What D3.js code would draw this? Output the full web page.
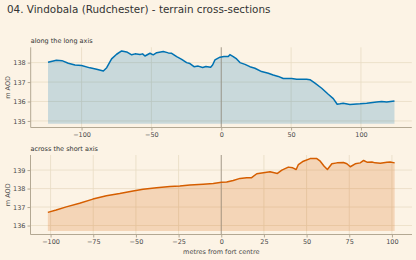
<!DOCTYPE html>
<html>
<head>
<meta charset="utf-8">
<script src="https://cdn.jsdelivr.net/npm/d3@7"></script>
<style>
  body { margin: 0; background: #fcf3e5; }
  svg { display: block; font-family: "DejaVu Sans", sans-serif; }
</style>
</head>
<body>
<svg id="chart"></svg>
<script>
const WIDTH = 416;
const HEIGHT = 260;

const TITLE = "04. Vindobala (Rudchester) - terrain cross-sections";
const X_LABEL = "metres from fort centre";
const Y_LABEL = "m AOD";

// along the long axis
const longX = [-124, -118, -114, -109.5, -104.7, -100, -94, -89.2, -84.4, -82, -78.5, -74.9, -71.3, -67.7, -64.1, -61.7,
  -58.2, -56.3, -54.6, -51, -48.7, -46.2, -41.5, -37.9, -35.5, -31.9, -28.3, -24.8, -22.4, -19.5, -16.5, -13.3, -11,
  -7.6, -6.2, -4.5, -0.9, 1.9, 5, 6.2, 8.6, 11, 13.4, 17, 20.5, 24.1, 28.9, 33.7, 37.2, 40.8, 44.4, 50.4, 54, 61.1,
  63.5, 67.1, 71.9, 76.6, 80.2, 83, 85, 87.3, 92.1, 99.3, 104.1, 111.2, 114.8, 118.4, 124];
const longZ = [138.02, 138.12, 138.1, 137.97, 137.88, 137.85, 137.73, 137.66, 137.57, 137.74, 138.19, 138.43, 138.6,
  138.55, 138.4, 138.45, 138.42, 138.45, 138.34, 138.48, 138.4, 138.51, 138.57, 138.5, 138.48, 138.31, 138.17, 138.0,
  137.95, 137.79, 137.82, 137.75, 137.8, 137.76, 137.88, 138.14, 138.28, 138.31, 138.31, 138.41, 138.31, 138.19, 138.0,
  137.91, 137.79, 137.71, 137.54, 137.45, 137.36, 137.29, 137.18, 137.18, 137.15, 137.15, 137.12, 136.94, 136.68,
  136.37, 136.15, 135.86, 135.88, 135.91, 135.85, 135.88, 135.91, 135.97, 136.0, 135.97, 136.02];

// across the short axis
const shortX = [-101.6, -96.7, -90.8, -83, -75.2, -67.3, -59.5, -51.7, -45.8, -37.9, -30.1, -24.3, -18.4, -10.6, -4.7,
  0.2, 3.2, 7, 11, 14.9, 17.8, 20.8, 24.7, 28.6, 32.9, 35.5, 39.3, 41.9, 43.9, 45.2, 48.1, 52.1, 56, 58, 60.3, 62.2,
  64.8, 67.8, 71.6, 73.6, 75.6, 78.5, 81.4, 83.4, 85.4, 88.3, 90.2, 93.2, 97.1, 99, 101.6];
const shortZ = [136.71, 136.84, 137.01, 137.21, 137.43, 137.61, 137.73, 137.87, 137.96, 138.05, 138.11, 138.14, 138.19,
  138.23, 138.27, 138.34, 138.35, 138.44, 138.55, 138.59, 138.59, 138.8, 138.86, 138.91, 138.82, 139.0, 139.16, 139.12,
  139.03, 139.3, 139.48, 139.62, 139.62, 139.48, 139.21, 139.03, 139.34, 139.39, 139.41, 139.34, 139.18, 139.34,
  139.39, 139.52, 139.43, 139.44, 139.39, 139.37, 139.42, 139.44, 139.39];

const longXTicks = [-100, -50, 0, 50, 100];
const longYTicks = [135, 136, 137, 138];
const shortXTicks = [-100, -75, -50, -25, 0, 25, 50, 75, 100];
const shortYTicks = [136, 137, 138, 139];

const GRID = "#e9dcc4";
const SPINE = "#b3a893";
const TEXT = "#4a4a4a";

const svg = d3.select("#chart")
  .attr("width", WIDTH)
  .attr("height", HEIGHT);

svg.append("rect")
  .attr("width", WIDTH)
  .attr("height", HEIGHT)
  .attr("fill", "#fcf3e5");

svg.append("text")
  .attr("x", 7)
  .attr("y", 12.5)
  .attr("font-size", 10.4)
  .attr("fill", "#333")
  .text(TITLE);

function pad(lo, hi) {
  const m = (hi - lo) * 0.05;
  return [lo - m, hi + m];
}

function panel(xs, zs, opt) {
  const base = d3.min(zs) - 1;
  const x = d3.scaleLinear()
    .domain(pad(d3.min(xs), d3.max(xs)))
    .range([opt.left, opt.right]);
  const y = d3.scaleLinear()
    .domain(pad(base, d3.max(zs)))
    .range([opt.bottom, opt.top]);

  const g = svg.append("g");

  // grid
  g.append("g").selectAll("line")
    .data(opt.xTicks)
    .join("line")
    .attr("x1", d => x(d)).attr("x2", d => x(d))
    .attr("y1", opt.top).attr("y2", opt.bottom)
    .attr("stroke", GRID).attr("stroke-width", 0.8);
  g.append("g").selectAll("line")
    .data(opt.yTicks)
    .join("line")
    .attr("x1", opt.left).attr("x2", opt.right)
    .attr("y1", d => y(d)).attr("y2", d => y(d))
    .attr("stroke", GRID).attr("stroke-width", 0.8);

  const pts = xs.map((d, i) => [d, zs[i]]);

  const area = d3.area()
    .x(d => x(d[0]))
    .y0(y(base))
    .y1(d => y(d[1]));
  g.append("path")
    .datum(pts)
    .attr("d", area)
    .attr("fill", opt.color)
    .attr("fill-opacity", 0.2);

  // zero line
  g.append("line")
    .attr("x1", x(0)).attr("x2", x(0))
    .attr("y1", opt.top).attr("y2", opt.bottom)
    .attr("stroke", "#8c8478").attr("stroke-width", 0.9).attr("stroke-opacity", 0.8);

  const line = d3.line()
    .x(d => x(d[0]))
    .y(d => y(d[1]));
  g.append("path")
    .datum(pts)
    .attr("d", line)
    .attr("fill", "none")
    .attr("stroke", opt.color)
    .attr("stroke-width", 1.5)
    .attr("stroke-linejoin", "round");

  const ax = g.append("g")
    .attr("transform", `translate(0, ${opt.bottom})`)
    .call(d3.axisBottom(x).tickValues(opt.xTicks).tickSize(3).tickPadding(2).tickFormat(d => d < 0 ? "\u2212" + Math.abs(d) : d));
  const ay = g.append("g")
    .attr("transform", `translate(${opt.left}, 0)`)
    .call(d3.axisLeft(y).tickValues(opt.yTicks).tickSize(3).tickPadding(2).tickFormat(d3.format("d")));

  [ax, ay].forEach(a => {
    a.select(".domain").attr("stroke", SPINE).attr("stroke-width", 1);
    a.selectAll(".tick line").attr("stroke", SPINE);
    a.selectAll("text")
      .attr("font-size", 6.5)
      .attr("fill", TEXT)
      .attr("font-family", "DejaVu Sans, sans-serif");
  });
  ax.select(".domain").attr("d", `M${opt.left},0H${opt.right}`);
  ay.select(".domain").attr("d", `M0,${opt.bottom}V${opt.top}`);

  g.append("text")
    .attr("x", opt.left)
    .attr("y", opt.top - 4)
    .attr("font-size", 6.5)
    .attr("fill", "#333")
    .text(opt.label);

  g.append("text")
    .attr("transform", `translate(10, ${(opt.top + opt.bottom) / 2}) rotate(-90)`)
    .attr("text-anchor", "middle")
    .attr("font-size", 6.5)
    .attr("fill", TEXT)
    .text(Y_LABEL);

  return x;
}

panel(longX, longZ, {
  left: 30.7, right: 411.8, top: 47.3, bottom: 127.5,
  color: "#0072b2", xTicks: longXTicks, yTicks: longYTicks,
  label: "along the long axis"
});

panel(shortX, shortZ, {
  left: 30.5, right: 412, top: 155, bottom: 234.5,
  color: "#d55e00", xTicks: shortXTicks, yTicks: shortYTicks,
  label: "across the short axis"
});

svg.append("text")
  .attr("x", (30.5 + 412) / 2)
  .attr("y", 253.5)
  .attr("text-anchor", "middle")
  .attr("font-size", 6.5)
  .attr("fill", TEXT)
  .text(X_LABEL);
</script>
</body>
</html>
